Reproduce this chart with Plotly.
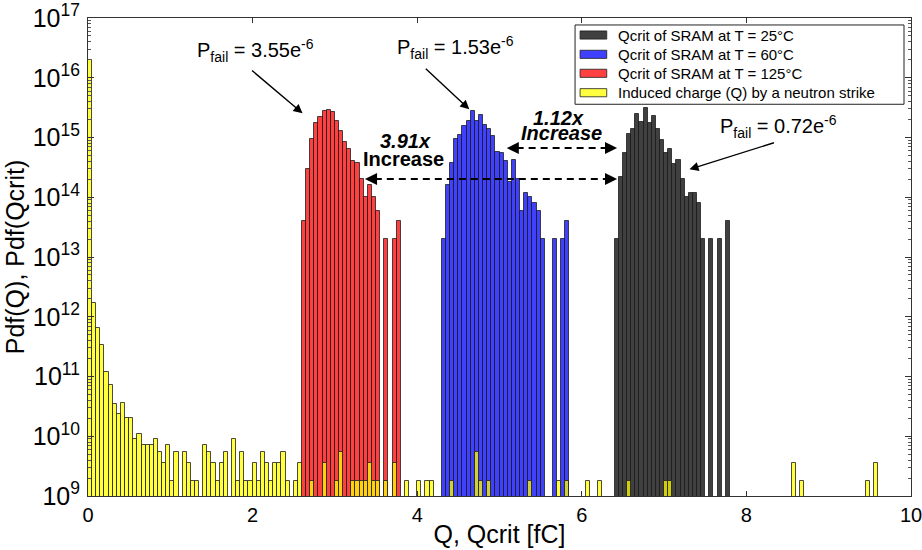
import plotly.graph_objects as go

# ---------------- data ----------------
BIN_W = 0.05  # fC

# Qcrit histograms (pdf, 1/C); None = empty bin
red_start = 2.60   # T = 125 C
red_pdf = [4e13, 3.0e14, 9.4e14, 1.72e15, 2.22e15, 2.78e15, 2.86e15, 2.7e15,
           1.88e15, 1.3e15, 8.4e14, 6.4e14, 4.0e14, 3.8e14, 2.0e14, 1.0e14,
           1.6e14, 1.0e14, 6e13, None, 2e13, None, 2e13, 4e13]

blue_start = 4.30  # T = 60 C
blue_pdf = [2e13, 1.6e14, 3.8e14, 9.4e14, 1.12e15, 1.56e15, 1.86e15, 2.74e15,
            1.86e15, 2.36e15, 1.64e15, 1.4e15, 1.04e15, 5.8e14, 5.4e14, 4.0e14,
            1.8e14, 4.2e14, 2.0e14, 6e13, 1.2e14, 1.0e14, 8e13, 6e13, 2e13,
            None, None, 2e13, None, 2e13, 4e13]

black_start = 6.40  # T = 25 C
black_pdf = [2e13, 2.2e14, 5.4e14, 1.16e15, 1.38e15, 2.5e15, 1.84e15, 3.1e15,
             1.74e15, 2.28e15, 1.38e15, 9.0e14, 5.6e14, 6.4e14, 3.6e14, 4.2e14,
             2.0e14, 1.0e14, 1.2e14, 1.2e14, 8e13, 2e13, None, 2e13, None,
             2e13, None, 4e13]

# Induced charge histogram (sparse: bin index -> pdf)
yellow_bin = [0, 1, 2, 3, 4, 5, 6, 7, 8, 9, 10, 11, 12, 13, 14, 15, 16, 17, 18,
              19, 20, 21, 23, 24, 25, 26, 28, 29, 30, 31, 32, 33, 35, 36, 37,
              38, 39, 40, 41, 42, 43, 44, 45, 46, 47, 48, 50, 51, 54, 57, 60,
              61, 64, 65, 66, 67, 68, 69, 70, 72, 74, 77, 80, 82, 83, 88, 94,
              95, 97, 107, 114, 116, 121, 124, 131, 140, 141, 171, 173, 189, 191]
yellow_pdf = [2.0e16, 1.68e12, 6.6e11, 3.4e11, 1.2e11, 7.2e10, 3.5e10, 2.4e10,
              3.6e10, 2.0e10, 2.0e10, 9.0e9, 1.08e10, 7.2e9, 7.2e9, 7.2e9, 9.0e9,
              5.4e9, 3.6e9, 7.2e9, 1.8e9, 5.4e9, 5.4e9, 3.6e9, 1.8e9, 1.8e9,
              7.2e9, 5.4e9, 3.6e9, 1.8e9, 3.6e9, 5.4e9, 9.0e9, 1.8e9, 5.4e9,
              1.8e9, 1.8e9, 3.6e9, 1.8e9, 5.4e9, 3.6e9, 1.8e9, 3.6e9, 3.6e9,
              5.4e9, 1.8e9, 1.8e9, 3.6e9, 1.8e9, 3.6e9, 1.8e9, 5.4e9, 1.8e9,
              1.8e9, 1.8e9, 1.8e9, 3.6e9, 1.8e9, 1.8e9, 1.8e9, 3.6e9, 1.8e9,
              1.8e9, 1.8e9, 1.8e9, 1.8e9, 5.4e9, 1.8e9, 1.8e9, 1.8e9, 1.8e9,
              1.8e9, 1.8e9, 1.8e9, 1.8e9, 1.8e9, 1.8e9, 3.6e9, 1.8e9, 1.8e9, 3.6e9]

names = ["Qcrit of SRAM at T = 25°C", "Qcrit of SRAM at T = 60°C",
         "Qcrit of SRAM at T = 125°C", "Induced charge (Q) by a neutron strike"]
colors = ["rgba(0,0,0,0.75)", "rgba(0,0,255,0.75)", "rgba(255,0,0,0.75)",
          "rgba(255,255,0,0.75)"]
EDGE = "rgba(30,30,30,0.8)"

FONT = "Liberation Sans, Arial, Helvetica, sans-serif"


def centers(start, n):
    return [start + BIN_W * (i + 0.5) for i in range(n)]


fig = go.Figure()
series = [
    (centers(black_start, len(black_pdf)), black_pdf),
    (centers(blue_start, len(blue_pdf)), blue_pdf),
    (centers(red_start, len(red_pdf)), red_pdf),
    ([BIN_W * (k + 0.5) for k in yellow_bin], yellow_pdf),
]
for (xs, ys), nm, col in zip(series, names, colors):
    fig.add_trace(go.Bar(
        x=xs, y=ys, width=BIN_W, name=nm, showlegend=False,
        marker=dict(color=col, line=dict(color=EDGE, width=1)),
    ))

fig.update_layout(
    width=922, height=550,
    margin=dict(l=88, r=11, t=18, b=54),
    plot_bgcolor="white", paper_bgcolor="white",
    barmode="overlay", bargap=0,
    font=dict(family=FONT, color="black"),
    showlegend=False,
)

fig.update_xaxes(
    range=[0, 10], dtick=2, ticks="inside", ticklen=5, tickcolor="#333",
    showline=True, linecolor="#333", linewidth=1, mirror="ticks",
    showgrid=False, zeroline=False, tickfont=dict(size=20, family=FONT),
    title=dict(text="Q, Qcrit [fC]", font=dict(size=25, family=FONT), standoff=0),
    ticklabelstandoff=1, automargin=False, ticklabeloverflow="allow",
)
fig.update_yaxes(
    type="log", range=[9, 17], dtick=1, exponentformat="power",
    ticks="inside", ticklen=6, tickcolor="#333",
    minor=dict(ticks="inside", ticklen=3, dtick="D1", tickcolor="#555", showgrid=False),
    showline=True, linecolor="#333", linewidth=1, mirror="ticks",
    showgrid=False, zeroline=False, tickfont=dict(size=20, family=FONT),
    title=dict(text="Pdf(Q), Pdf(Qcrit)", font=dict(size=25, family=FONT), standoff=0),
    ticklabelstandoff=3, automargin=False,
)

ann = []
shapes = []

# ---- legend box (drawn in paper coordinates) ----
LEG_X0, LEG_X1, LEG_Y0, LEG_Y1 = 0.5918, 0.9915, 0.8195, 0.9854
ROW_Y = [0.9644, 0.9240, 0.8843, 0.8437]
shapes.append(dict(type="rect", xref="paper", yref="paper", x0=LEG_X0, x1=LEG_X1,
                   y0=LEG_Y0, y1=LEG_Y1, line=dict(color="#222", width=1),
                   fillcolor="white", layer="above"))
for nm, col, ry in zip(names, colors, ROW_Y):
    shapes.append(dict(type="rect", xref="paper", yref="paper", x0=0.5979, x1=0.6303,
                       y0=ry - 0.0085, y1=ry + 0.0085, fillcolor=col,
                       line=dict(color=EDGE, width=1), layer="above"))
    ann.append(dict(x=0.6416, y=ry, xref="paper", yref="paper", text=nm,
                    xanchor="left", yanchor="middle", showarrow=False,
                    font=dict(size=15, family=FONT)))

# P_fail labels
for txt, x, ly in [("P<sub>fail</sub> = 3.55e<sup>-6</sup>", 2.03, 16.46),
                   ("P<sub>fail</sub> = 1.53e<sup>-6</sup>", 4.46, 16.50),
                   ("P<sub>fail</sub> = 0.72e<sup>-6</sup>", 8.39, 15.18)]:
    ann.append(dict(x=x, y=ly, xref="x", yref="y", text=txt, showarrow=False,
                    font=dict(size=20, family=FONT)))
# P_fail arrows (tip in data, tail as pixel offset)
for x, ly, ax, ay in [(2.607, 15.405, -52, -44),
                      (4.633, 15.472, -45, -42),
                      (7.308, 14.468, 86, -27)]:
    ann.append(dict(x=x, y=ly, xref="x", yref="y", ax=ax, ay=ay, text="",
                    showarrow=True, arrowhead=2, arrowsize=1.3, arrowwidth=1.4,
                    arrowcolor="black"))
# increase labels
ann += [
    dict(x=3.86, y=14.94, xref="x", yref="y", text="<b><i>3.91x</i></b>",
         showarrow=False, font=dict(size=20, family=FONT)),
    dict(x=3.83, y=14.64, xref="x", yref="y", text="<b>Increase</b>",
         showarrow=False, font=dict(size=20, family=FONT)),
    dict(x=5.72, y=15.33, xref="x", yref="y", text="<b><i>1.12x</i></b>",
         showarrow=False, font=dict(size=20, family=FONT)),
    dict(x=5.75, y=15.075, xref="x", yref="y", text="<b><i>Increase</i></b>",
         showarrow=False, font=dict(size=20, family=FONT)),
]
# dashed double arrows
dashed = [(3.365, 6.429, 14.305), (5.088, 6.429, 14.824)]
for x0, x1, ly in dashed:
    shapes.append(dict(type="line", xref="x", yref="y", x0=x0 + 0.12, x1=x1 - 0.12,
                       y0=10 ** ly, y1=10 ** ly,
                       line=dict(color="black", width=2, dash="7px,5px")))
    ann.append(dict(x=x0, y=ly, xref="x", yref="y", ax=12, ay=0, text="",
                    showarrow=True, arrowhead=2, arrowsize=1.1, arrowwidth=2.2,
                    arrowcolor="black"))
    ann.append(dict(x=x1, y=ly, xref="x", yref="y", ax=-12, ay=0, text="",
                    showarrow=True, arrowhead=2, arrowsize=1.1, arrowwidth=2.2,
                    arrowcolor="black"))

fig.update_layout(annotations=ann, shapes=shapes)
fig.write_html("out.html")
